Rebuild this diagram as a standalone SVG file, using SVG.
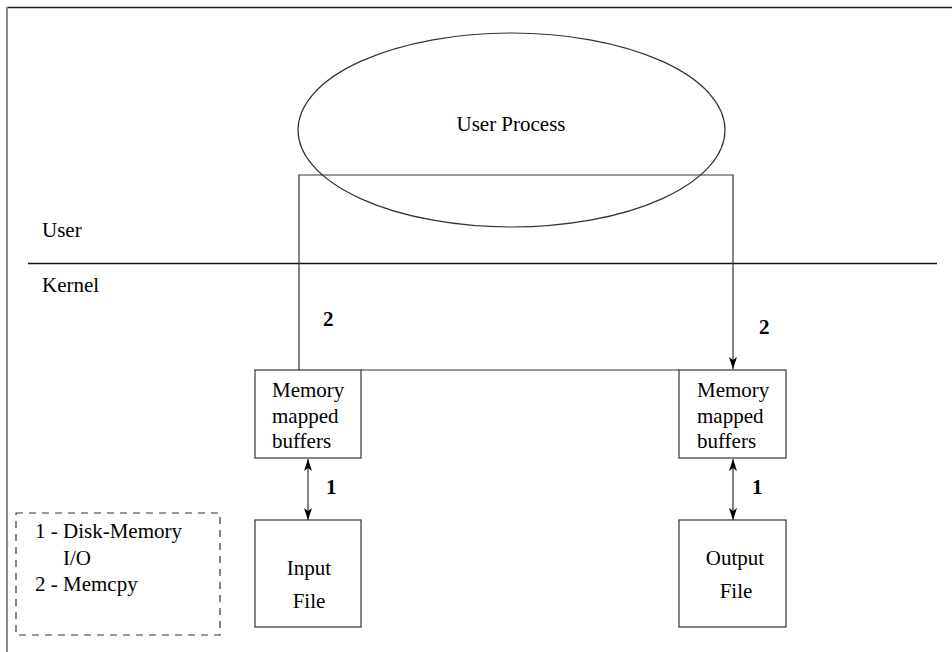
<svg xmlns="http://www.w3.org/2000/svg" width="952" height="652" viewBox="0 0 952 652">
  <style>
    text { font-family: "Liberation Serif", "Times New Roman", serif; font-size: 21px; fill: #000; }
    .num { font-weight: bold; }
    .box { fill: none; stroke: #333; stroke-width: 1.2; }
    .wire { fill: none; stroke: #333; stroke-width: 1.2; }
    .mid { text-anchor: middle; }
  </style>
  <defs>
    <marker id="head" viewBox="0 0 12 8" refX="12" refY="4" markerWidth="12" markerHeight="8" markerUnits="userSpaceOnUse" orient="auto-start-reverse">
      <path d="M0,0 L12,4 L0,8 L3,4 Z" fill="#000"/>
    </marker>
  </defs>
  <rect width="952" height="652" fill="#fff"/>

  <!-- page frame -->
  <line x1="7" y1="7.5" x2="952" y2="7.5" stroke="#222" stroke-width="1.5"/>
  <line x1="7" y1="7" x2="7" y2="652" stroke="#888" stroke-width="2"/>

  <!-- user / kernel boundary -->
  <line x1="28" y1="263.5" x2="937" y2="263.5" stroke="#111" stroke-width="1.6"/>
  <text x="42" y="237">User</text>
  <text x="42" y="292">Kernel</text>

  <g id="user-process">
    <ellipse cx="511.5" cy="130" rx="213.5" ry="97" fill="none" stroke="#333" stroke-width="1.2"/>
    <text x="511" y="131" class="mid">User Process</text>
  </g>

  <g id="connectors">
    <polyline class="wire" points="299,370 299,175 733,175 733,369" marker-end="url(#head)"/>
    <line class="wire" x1="361" y1="370" x2="679" y2="370"/>
    <line class="wire" x1="308" y1="459" x2="308" y2="520" marker-start="url(#head)" marker-end="url(#head)"/>
    <line class="wire" x1="733" y1="459" x2="733" y2="520" marker-start="url(#head)" marker-end="url(#head)"/>
    <text x="323" y="326" class="num">2</text>
    <text x="759" y="334" class="num">2</text>
    <text x="326" y="494" class="num">1</text>
    <text x="752" y="494" class="num">1</text>
  </g>

  <g id="in-buffers">
    <rect class="box" x="255" y="370" width="106" height="88"/>
    <text x="272" y="397">Memory</text>
    <text x="272" y="423">mapped</text>
    <text x="272" y="448">buffers</text>
  </g>

  <g id="out-buffers">
    <rect class="box" x="679" y="370" width="107" height="88"/>
    <text x="697" y="397">Memory</text>
    <text x="697" y="423">mapped</text>
    <text x="697" y="448">buffers</text>
  </g>

  <g id="input-file">
    <rect class="box" x="255" y="520" width="106" height="107"/>
    <text x="309" y="575" class="mid">Input</text>
    <text x="309" y="608" class="mid">File</text>
  </g>

  <g id="output-file">
    <rect class="box" x="679" y="520" width="107" height="107"/>
    <text x="735" y="565" class="mid">Output</text>
    <text x="736" y="598" class="mid">File</text>
  </g>

  <g id="legend">
    <rect x="16" y="513" width="204" height="122" fill="none" stroke="#333" stroke-width="1.2" stroke-dasharray="7,6"/>
    <text x="35" y="538">1 - Disk-Memory</text>
    <text x="63" y="565">I/O</text>
    <text x="35" y="591">2 - Memcpy</text>
  </g>
</svg>
